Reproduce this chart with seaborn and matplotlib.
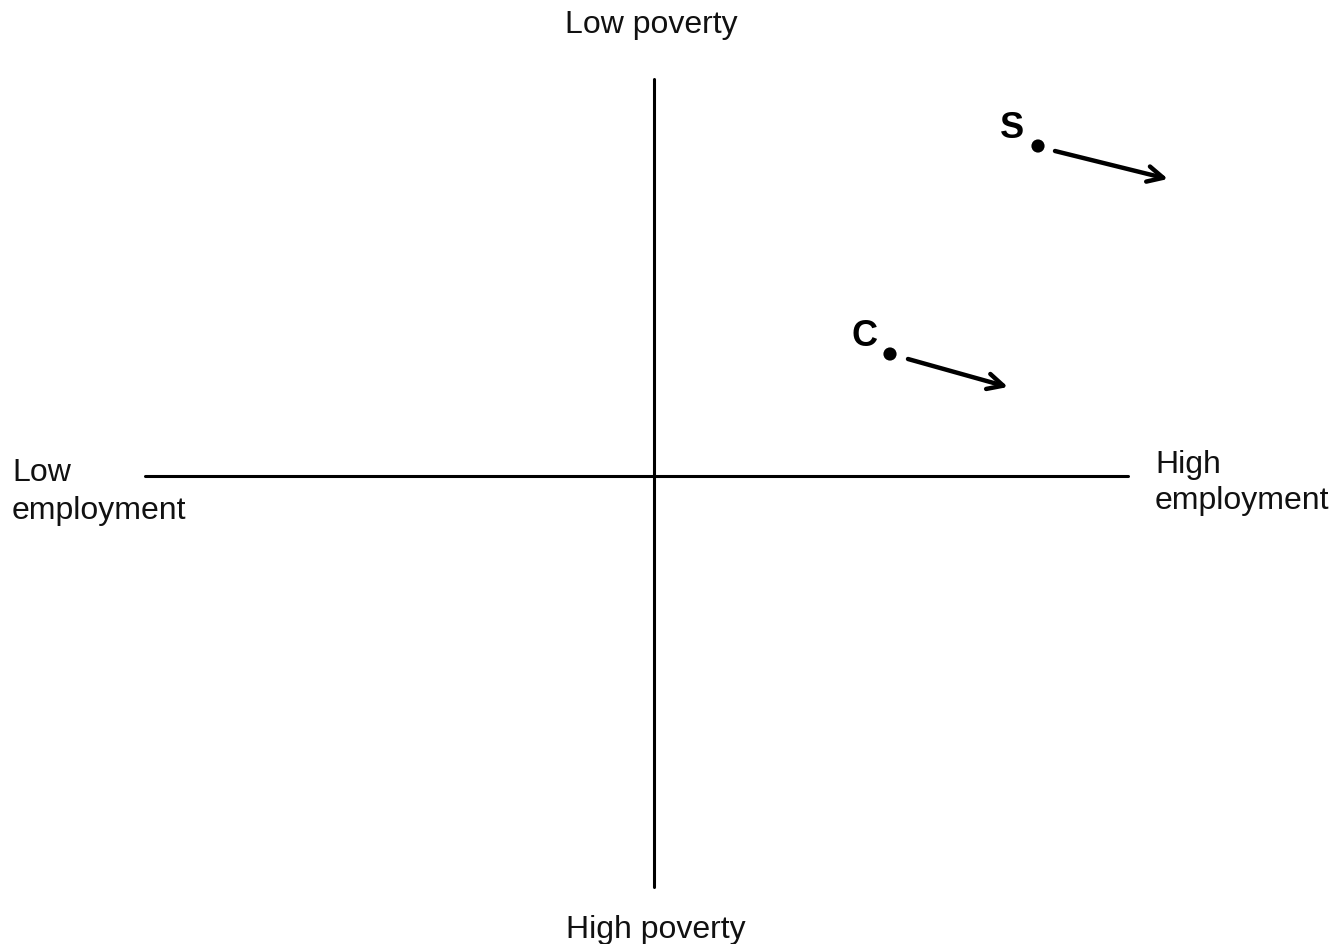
import pandas as pd
import seaborn as sns
import matplotlib.pyplot as plt

# Positions of the two groups (employment on x, poverty on y; centre = 0)
groups = ['S', 'C']
employment = [3.84, 2.36]
poverty = [3.30, 1.22]

# Direction of movement: arrow start and end points
arrow_x0 = [4.01, 2.54]
arrow_y0 = [3.25, 1.17]
arrow_x1 = [5.14, 3.54]
arrow_y1 = [2.97, 0.89]

# Extent of the two crossing axes
x_axis = [-5.09, 4.74]
y_axis = [-4.11, 3.97]

df = pd.DataFrame({'group': groups, 'employment': employment, 'poverty': poverty})

sns.set_style('white')
plt.rcParams['font.family'] = ['Liberation Sans', 'DejaVu Sans']

fig = plt.figure(figsize=(13.36, 9.45), dpi=100)
ax = fig.add_axes([0, 0, 1, 1])
ax.set_xlim(-6.54, 6.82)
ax.set_ylim(-4.68, 4.77)
ax.axis('off')

# Crossing axes
ax.plot(x_axis, [0, 0], color='black', lw=2.2)
ax.plot([0, 0], y_axis, color='black', lw=2.2)

# Points
sns.scatterplot(data=df, x='employment', y='poverty', color='black', s=90,
                edgecolor='none', ax=ax, legend=False)
for g, x, y in zip(groups, employment, poverty):
    ax.text(x - 0.26, y + 0.18, g, fontsize=26, fontweight='bold',
            ha='center', va='center', color='black')

# Arrows
for x0, y0, x1, y1 in zip(arrow_x0, arrow_y0, arrow_x1, arrow_y1):
    ax.annotate('', xy=(x1, y1), xytext=(x0, y0),
                arrowprops=dict(arrowstyle='->', color='black', lw=3.2,
                                mutation_scale=28, shrinkA=0, shrinkB=0))

# Quadrant labels
lbl = dict(fontsize=23, color='#111111')
ax.text(-0.03, 4.52, 'Low poverty', ha='center', va='center', **lbl)
ax.text(0.02, -4.53, 'High poverty', ha='center', va='center', **lbl)
ax.text(-6.42, -0.15, 'Low\nemployment', ha='left', va='center',
        linespacing=1.32, **lbl)
ax.text(5.01, -0.06, 'High\nemployment', ha='left', va='center',
        linespacing=1.28, **lbl)

plt.savefig('out.png', dpi=100)
